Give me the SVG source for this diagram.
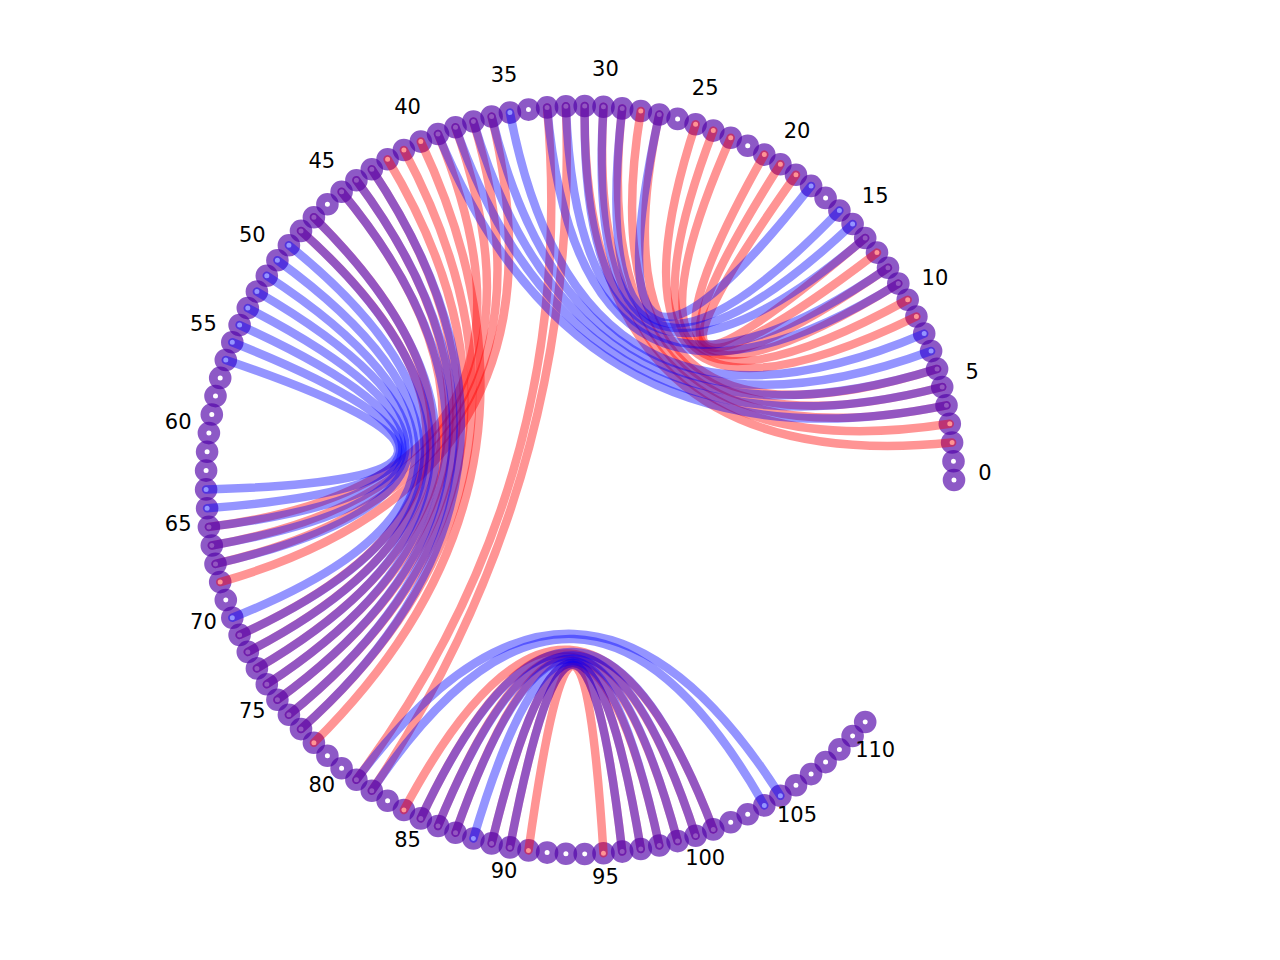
<svg xmlns="http://www.w3.org/2000/svg" width="1280" height="960" viewBox="0 0 1280 960">
<style>
.node circle{fill:none;stroke:#5000a8;stroke-opacity:.65;stroke-width:8.8}
.e{fill:none;stroke-width:8.5;stroke-linecap:round}
.r{stroke:#ff0000;stroke-opacity:.42}
.b{stroke:#0000ff;stroke-opacity:.42}
.lbl{font-family:"DejaVu Sans",sans-serif;font-size:21px;fill:#000;text-anchor:middle}
</style>
<rect width="1280" height="960" fill="#fff"/>
<g id="nodes">
<g id="n0" class="node"><circle cx="954.0" cy="480.0" r="6.9"/></g>
<g id="n1" class="node"><circle cx="953.5" cy="461.2" r="6.9"/></g>
<g id="n2" class="node"><circle cx="952.1" cy="442.5" r="6.9"/></g>
<g id="n3" class="node"><circle cx="949.8" cy="423.8" r="6.9"/></g>
<g id="n4" class="node"><circle cx="946.5" cy="405.3" r="6.9"/></g>
<g id="n5" class="node"><circle cx="942.2" cy="387.0" r="6.9"/></g>
<g id="n6" class="node"><circle cx="937.1" cy="368.9" r="6.9"/></g>
<g id="n7" class="node"><circle cx="931.1" cy="351.1" r="6.9"/></g>
<g id="n8" class="node"><circle cx="924.2" cy="333.6" r="6.9"/></g>
<g id="n9" class="node"><circle cx="916.4" cy="316.5" r="6.9"/></g>
<g id="n10" class="node"><circle cx="907.7" cy="299.8" r="6.9"/></g>
<g id="n11" class="node"><circle cx="898.3" cy="283.6" r="6.9"/></g>
<g id="n12" class="node"><circle cx="888.0" cy="267.8" r="6.9"/></g>
<g id="n13" class="node"><circle cx="877.0" cy="252.6" r="6.9"/></g>
<g id="n14" class="node"><circle cx="865.2" cy="238.0" r="6.9"/></g>
<g id="n15" class="node"><circle cx="852.6" cy="224.0" r="6.9"/></g>
<g id="n16" class="node"><circle cx="839.4" cy="210.6" r="6.9"/></g>
<g id="n17" class="node"><circle cx="825.6" cy="197.9" r="6.9"/></g>
<g id="n18" class="node"><circle cx="811.1" cy="185.9" r="6.9"/></g>
<g id="n19" class="node"><circle cx="796.0" cy="174.7" r="6.9"/></g>
<g id="n20" class="node"><circle cx="780.4" cy="164.2" r="6.9"/></g>
<g id="n21" class="node"><circle cx="764.3" cy="154.6" r="6.9"/></g>
<g id="n22" class="node"><circle cx="747.7" cy="145.7" r="6.9"/></g>
<g id="n23" class="node"><circle cx="730.7" cy="137.7" r="6.9"/></g>
<g id="n24" class="node"><circle cx="713.3" cy="130.6" r="6.9"/></g>
<g id="n25" class="node"><circle cx="695.6" cy="124.3" r="6.9"/></g>
<g id="n26" class="node"><circle cx="677.6" cy="118.9" r="6.9"/></g>
<g id="n27" class="node"><circle cx="659.3" cy="114.5" r="6.9"/></g>
<g id="n28" class="node"><circle cx="640.8" cy="111.0" r="6.9"/></g>
<g id="n29" class="node"><circle cx="622.2" cy="108.4" r="6.9"/></g>
<g id="n30" class="node"><circle cx="603.5" cy="106.7" r="6.9"/></g>
<g id="n31" class="node"><circle cx="584.7" cy="106.0" r="6.9"/></g>
<g id="n32" class="node"><circle cx="565.9" cy="106.3" r="6.9"/></g>
<g id="n33" class="node"><circle cx="547.1" cy="107.4" r="6.9"/></g>
<g id="n34" class="node"><circle cx="528.5" cy="109.6" r="6.9"/></g>
<g id="n35" class="node"><circle cx="509.9" cy="112.6" r="6.9"/></g>
<g id="n36" class="node"><circle cx="491.6" cy="116.6" r="6.9"/></g>
<g id="n37" class="node"><circle cx="473.4" cy="121.5" r="6.9"/></g>
<g id="n38" class="node"><circle cx="455.5" cy="127.3" r="6.9"/></g>
<g id="n39" class="node"><circle cx="438.0" cy="134.0" r="6.9"/></g>
<g id="n40" class="node"><circle cx="420.8" cy="141.6" r="6.9"/></g>
<g id="n41" class="node"><circle cx="403.9" cy="150.0" r="6.9"/></g>
<g id="n42" class="node"><circle cx="387.6" cy="159.3" r="6.9"/></g>
<g id="n43" class="node"><circle cx="371.8" cy="169.3" r="6.9"/></g>
<g id="n44" class="node"><circle cx="356.4" cy="180.2" r="6.9"/></g>
<g id="n45" class="node"><circle cx="341.6" cy="191.8" r="6.9"/></g>
<g id="n46" class="node"><circle cx="327.4" cy="204.2" r="6.9"/></g>
<g id="n47" class="node"><circle cx="313.9" cy="217.2" r="6.9"/></g>
<g id="n48" class="node"><circle cx="301.0" cy="230.9" r="6.9"/></g>
<g id="n49" class="node"><circle cx="288.9" cy="245.2" r="6.9"/></g>
<g id="n50" class="node"><circle cx="277.4" cy="260.2" r="6.9"/></g>
<g id="n51" class="node"><circle cx="266.8" cy="275.7" r="6.9"/></g>
<g id="n52" class="node"><circle cx="256.9" cy="291.6" r="6.9"/></g>
<g id="n53" class="node"><circle cx="247.8" cy="308.1" r="6.9"/></g>
<g id="n54" class="node"><circle cx="239.6" cy="325.1" r="6.9"/></g>
<g id="n55" class="node"><circle cx="232.3" cy="342.3" r="6.9"/></g>
<g id="n56" class="node"><circle cx="225.8" cy="360.0" r="6.9"/></g>
<g id="n57" class="node"><circle cx="220.2" cy="377.9" r="6.9"/></g>
<g id="n58" class="node"><circle cx="215.5" cy="396.1" r="6.9"/></g>
<g id="n59" class="node"><circle cx="211.8" cy="414.5" r="6.9"/></g>
<g id="n60" class="node"><circle cx="208.9" cy="433.1" r="6.9"/></g>
<g id="n61" class="node"><circle cx="207.1" cy="451.8" r="6.9"/></g>
<g id="n62" class="node"><circle cx="206.1" cy="470.6" r="6.9"/></g>
<g id="n63" class="node"><circle cx="206.1" cy="489.4" r="6.9"/></g>
<g id="n64" class="node"><circle cx="207.1" cy="508.2" r="6.9"/></g>
<g id="n65" class="node"><circle cx="208.9" cy="526.9" r="6.9"/></g>
<g id="n66" class="node"><circle cx="211.8" cy="545.5" r="6.9"/></g>
<g id="n67" class="node"><circle cx="215.5" cy="563.9" r="6.9"/></g>
<g id="n68" class="node"><circle cx="220.2" cy="582.1" r="6.9"/></g>
<g id="n69" class="node"><circle cx="225.8" cy="600.0" r="6.9"/></g>
<g id="n70" class="node"><circle cx="232.3" cy="617.7" r="6.9"/></g>
<g id="n71" class="node"><circle cx="239.6" cy="634.9" r="6.9"/></g>
<g id="n72" class="node"><circle cx="247.8" cy="651.9" r="6.9"/></g>
<g id="n73" class="node"><circle cx="256.9" cy="668.4" r="6.9"/></g>
<g id="n74" class="node"><circle cx="266.8" cy="684.3" r="6.9"/></g>
<g id="n75" class="node"><circle cx="277.4" cy="699.8" r="6.9"/></g>
<g id="n76" class="node"><circle cx="288.9" cy="714.8" r="6.9"/></g>
<g id="n77" class="node"><circle cx="301.0" cy="729.1" r="6.9"/></g>
<g id="n78" class="node"><circle cx="313.9" cy="742.8" r="6.9"/></g>
<g id="n79" class="node"><circle cx="327.4" cy="755.8" r="6.9"/></g>
<g id="n80" class="node"><circle cx="341.6" cy="768.2" r="6.9"/></g>
<g id="n81" class="node"><circle cx="356.4" cy="779.8" r="6.9"/></g>
<g id="n82" class="node"><circle cx="371.8" cy="790.7" r="6.9"/></g>
<g id="n83" class="node"><circle cx="387.6" cy="800.7" r="6.9"/></g>
<g id="n84" class="node"><circle cx="403.9" cy="810.0" r="6.9"/></g>
<g id="n85" class="node"><circle cx="420.8" cy="818.4" r="6.9"/></g>
<g id="n86" class="node"><circle cx="438.0" cy="826.0" r="6.9"/></g>
<g id="n87" class="node"><circle cx="455.5" cy="832.7" r="6.9"/></g>
<g id="n88" class="node"><circle cx="473.4" cy="838.5" r="6.9"/></g>
<g id="n89" class="node"><circle cx="491.6" cy="843.4" r="6.9"/></g>
<g id="n90" class="node"><circle cx="509.9" cy="847.4" r="6.9"/></g>
<g id="n91" class="node"><circle cx="528.5" cy="850.4" r="6.9"/></g>
<g id="n92" class="node"><circle cx="547.1" cy="852.6" r="6.9"/></g>
<g id="n93" class="node"><circle cx="565.9" cy="853.7" r="6.9"/></g>
<g id="n94" class="node"><circle cx="584.7" cy="854.0" r="6.9"/></g>
<g id="n95" class="node"><circle cx="603.5" cy="853.3" r="6.9"/></g>
<g id="n96" class="node"><circle cx="622.2" cy="851.6" r="6.9"/></g>
<g id="n97" class="node"><circle cx="640.8" cy="849.0" r="6.9"/></g>
<g id="n98" class="node"><circle cx="659.3" cy="845.5" r="6.9"/></g>
<g id="n99" class="node"><circle cx="677.6" cy="841.1" r="6.9"/></g>
<g id="n100" class="node"><circle cx="695.6" cy="835.7" r="6.9"/></g>
<g id="n101" class="node"><circle cx="713.3" cy="829.4" r="6.9"/></g>
<g id="n102" class="node"><circle cx="730.7" cy="822.3" r="6.9"/></g>
<g id="n103" class="node"><circle cx="747.7" cy="814.3" r="6.9"/></g>
<g id="n104" class="node"><circle cx="764.3" cy="805.4" r="6.9"/></g>
<g id="n105" class="node"><circle cx="780.4" cy="795.8" r="6.9"/></g>
<g id="n106" class="node"><circle cx="796.0" cy="785.3" r="6.9"/></g>
<g id="n107" class="node"><circle cx="811.1" cy="774.1" r="6.9"/></g>
<g id="n108" class="node"><circle cx="825.6" cy="762.1" r="6.9"/></g>
<g id="n109" class="node"><circle cx="839.4" cy="749.4" r="6.9"/></g>
<g id="n110" class="node"><circle cx="852.6" cy="736.0" r="6.9"/></g>
<g id="n111" class="node"><circle cx="865.2" cy="722.0" r="6.9"/></g>
</g>
<g id="connectors">
<g id="red-edges">
<path class="e r" d="M952.1 442.5Q580 480 584.7 106.0"/>
<path class="e r" d="M949.8 423.8Q580 480 603.5 106.7"/>
<path class="e r" d="M946.5 405.3Q580 480 622.2 108.4"/>
<path class="e r" d="M942.2 387.0Q580 480 640.8 111.0"/>
<path class="e r" d="M937.1 368.9Q580 480 659.3 114.5"/>
<path class="e r" d="M916.4 316.5Q580 480 695.6 124.3"/>
<path class="e r" d="M907.7 299.8Q580 480 713.3 130.6"/>
<path class="e r" d="M898.3 283.6Q580 480 730.7 137.7"/>
<path class="e r" d="M888.0 267.8Q580 480 764.3 154.6"/>
<path class="e r" d="M877.0 252.6Q580 480 780.4 164.2"/>
<path class="e r" d="M865.2 238.0Q580 480 796.0 174.7"/>
<path class="e r" d="M565.9 106.3Q580 480 371.8 790.7"/>
<path class="e r" d="M547.1 107.4Q580 480 356.4 779.8"/>
<path class="e r" d="M491.6 116.6Q580 480 220.2 582.1"/>
<path class="e r" d="M473.4 121.5Q580 480 215.5 563.9"/>
<path class="e r" d="M455.5 127.3Q580 480 211.8 545.5"/>
<path class="e r" d="M438.0 134.0Q580 480 208.9 526.9"/>
<path class="e r" d="M420.8 141.6Q580 480 313.9 742.8"/>
<path class="e r" d="M403.9 150.0Q580 480 301.0 729.1"/>
<path class="e r" d="M387.6 159.3Q580 480 288.9 714.8"/>
<path class="e r" d="M371.8 169.3Q580 480 277.4 699.8"/>
<path class="e r" d="M356.4 180.2Q580 480 266.8 684.3"/>
<path class="e r" d="M341.6 191.8Q580 480 256.9 668.4"/>
<path class="e r" d="M313.9 217.2Q580 480 247.8 651.9"/>
<path class="e r" d="M301.0 230.9Q580 480 239.6 634.9"/>
<path class="e r" d="M403.9 810.0Q580 480 713.3 829.4"/>
<path class="e r" d="M420.8 818.4Q580 480 695.6 835.7"/>
<path class="e r" d="M438.0 826.0Q580 480 677.6 841.1"/>
<path class="e r" d="M455.5 832.7Q580 480 659.3 845.5"/>
<path class="e r" d="M491.6 843.4Q580 480 640.8 849.0"/>
<path class="e r" d="M509.9 847.4Q580 480 622.2 851.6"/>
<path class="e r" d="M528.5 850.4Q580 480 603.5 853.3"/>
</g>
<g id="blue-edges">
<path class="e b" d="M946.5 405.3Q580 480 438.0 134.0"/>
<path class="e b" d="M942.2 387.0Q580 480 455.5 127.3"/>
<path class="e b" d="M937.1 368.9Q580 480 473.4 121.5"/>
<path class="e b" d="M931.1 351.1Q580 480 491.6 116.6"/>
<path class="e b" d="M924.2 333.6Q580 480 509.9 112.6"/>
<path class="e b" d="M898.3 283.6Q580 480 547.1 107.4"/>
<path class="e b" d="M888.0 267.8Q580 480 565.9 106.3"/>
<path class="e b" d="M865.2 238.0Q580 480 584.7 106.0"/>
<path class="e b" d="M852.6 224.0Q580 480 603.5 106.7"/>
<path class="e b" d="M839.4 210.6Q580 480 622.2 108.4"/>
<path class="e b" d="M811.1 185.9Q580 480 659.3 114.5"/>
<path class="e b" d="M371.8 169.3Q580 480 301.0 729.1"/>
<path class="e b" d="M356.4 180.2Q580 480 288.9 714.8"/>
<path class="e b" d="M341.6 191.8Q580 480 277.4 699.8"/>
<path class="e b" d="M313.9 217.2Q580 480 266.8 684.3"/>
<path class="e b" d="M301.0 230.9Q580 480 256.9 668.4"/>
<path class="e b" d="M288.9 245.2Q580 480 247.8 651.9"/>
<path class="e b" d="M277.4 260.2Q580 480 239.6 634.9"/>
<path class="e b" d="M266.8 275.7Q580 480 232.3 617.7"/>
<path class="e b" d="M256.9 291.6Q580 480 215.5 563.9"/>
<path class="e b" d="M247.8 308.1Q580 480 211.8 545.5"/>
<path class="e b" d="M239.6 325.1Q580 480 208.9 526.9"/>
<path class="e b" d="M232.3 342.3Q580 480 207.1 508.2"/>
<path class="e b" d="M225.8 360.0Q580 480 206.1 489.4"/>
<path class="e b" d="M356.4 779.8Q580 480 780.4 795.8"/>
<path class="e b" d="M371.8 790.7Q580 480 764.3 805.4"/>
<path class="e b" d="M420.8 818.4Q580 480 713.3 829.4"/>
<path class="e b" d="M438.0 826.0Q580 480 695.6 835.7"/>
<path class="e b" d="M455.5 832.7Q580 480 677.6 841.1"/>
<path class="e b" d="M473.4 838.5Q580 480 659.3 845.5"/>
<path class="e b" d="M491.6 843.4Q580 480 640.8 849.0"/>
<path class="e b" d="M509.9 847.4Q580 480 622.2 851.6"/>
</g>
</g>
<g id="labels">
<text class="lbl" x="985.0" y="480.0">0</text>
<text class="lbl" x="972.3" y="379.3">5</text>
<text class="lbl" x="934.9" y="284.9">10</text>
<text class="lbl" x="875.2" y="202.8">15</text>
<text class="lbl" x="797.0" y="138.0">20</text>
<text class="lbl" x="705.2" y="94.8">25</text>
<text class="lbl" x="605.4" y="75.8">30</text>
<text class="lbl" x="504.1" y="82.2">35</text>
<text class="lbl" x="407.6" y="113.5">40</text>
<text class="lbl" x="321.8" y="167.9">45</text>
<text class="lbl" x="252.3" y="241.9">50</text>
<text class="lbl" x="203.4" y="330.9">55</text>
<text class="lbl" x="178.2" y="429.2">60</text>
<text class="lbl" x="178.2" y="530.8">65</text>
<text class="lbl" x="203.4" y="629.1">70</text>
<text class="lbl" x="252.3" y="718.1">75</text>
<text class="lbl" x="321.8" y="792.1">80</text>
<text class="lbl" x="407.6" y="846.5">85</text>
<text class="lbl" x="504.1" y="877.8">90</text>
<text class="lbl" x="605.4" y="884.2">95</text>
<text class="lbl" x="705.2" y="865.2">100</text>
<text class="lbl" x="797.0" y="822.0">105</text>
<text class="lbl" x="875.2" y="757.2">110</text>
</g>
</svg>
